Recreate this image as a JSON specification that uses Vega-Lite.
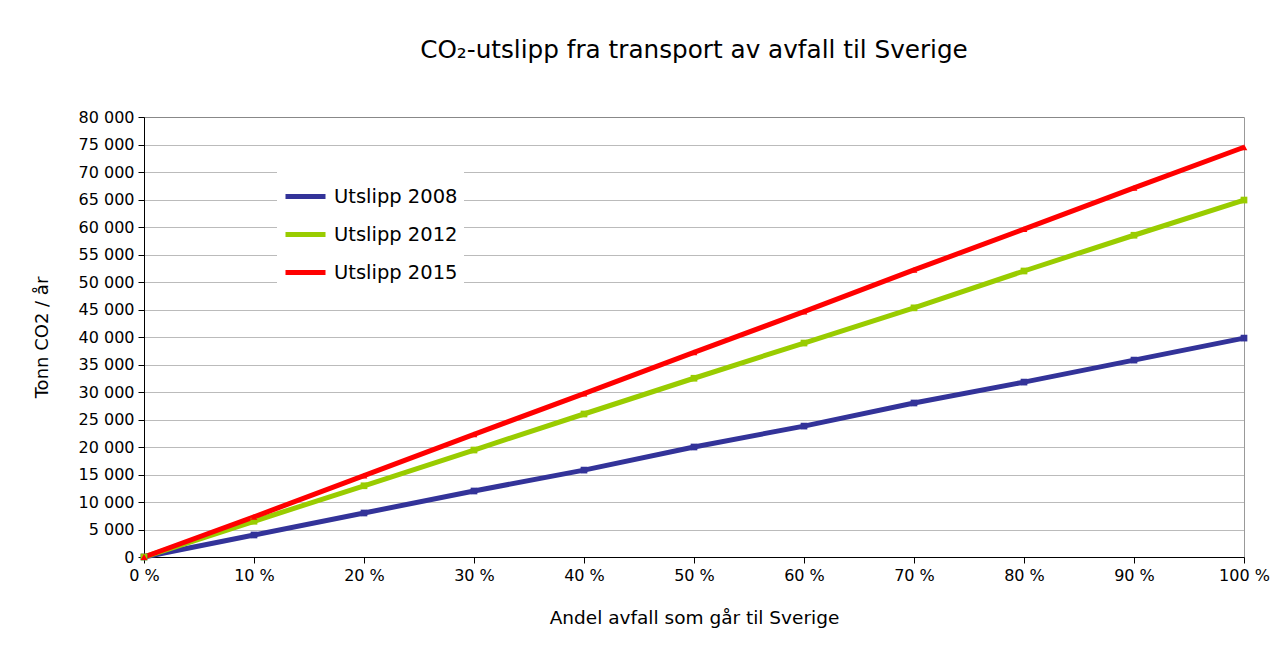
{
  "$schema": "https://vega.github.io/schema/vega-lite/v6.json",
  "width": 1100,
  "height": 440,
  "autosize": {"type": "none"},
  "padding": {"left": 144, "top": 117, "right": 37, "bottom": 95},
  "background": "white",
  "title": {
    "text": "CO₂-utslipp fra transport av avfall til Sverige",
    "font": "DejaVu Sans",
    "fontSize": 24.7,
    "fontWeight": "normal",
    "color": "#000000",
    "anchor": "middle",
    "offset": 46
  },
  "config": {
    "locale": {"number": {"decimal": ",", "thousands": " ", "grouping": [3], "currency": ["", ""]}},
    "view": {"stroke": "#999999", "strokeWidth": 1},
    "font": "DejaVu Sans"
  },
  "data": {
    "values": [
      {"andel": 0, "serie": "Utslipp 2008", "co2": 0},
      {"andel": 10, "serie": "Utslipp 2008", "co2": 4000},
      {"andel": 20, "serie": "Utslipp 2008", "co2": 8000},
      {"andel": 30, "serie": "Utslipp 2008", "co2": 12000},
      {"andel": 40, "serie": "Utslipp 2008", "co2": 15800},
      {"andel": 50, "serie": "Utslipp 2008", "co2": 20000},
      {"andel": 60, "serie": "Utslipp 2008", "co2": 23800},
      {"andel": 70, "serie": "Utslipp 2008", "co2": 28000},
      {"andel": 80, "serie": "Utslipp 2008", "co2": 31800},
      {"andel": 90, "serie": "Utslipp 2008", "co2": 35800},
      {"andel": 100, "serie": "Utslipp 2008", "co2": 39800},
      {"andel": 0, "serie": "Utslipp 2012", "co2": 0},
      {"andel": 10, "serie": "Utslipp 2012", "co2": 6500},
      {"andel": 20, "serie": "Utslipp 2012", "co2": 12950},
      {"andel": 30, "serie": "Utslipp 2012", "co2": 19450},
      {"andel": 40, "serie": "Utslipp 2012", "co2": 26000},
      {"andel": 50, "serie": "Utslipp 2012", "co2": 32500},
      {"andel": 60, "serie": "Utslipp 2012", "co2": 38900},
      {"andel": 70, "serie": "Utslipp 2012", "co2": 45300},
      {"andel": 80, "serie": "Utslipp 2012", "co2": 52000},
      {"andel": 90, "serie": "Utslipp 2012", "co2": 58500},
      {"andel": 100, "serie": "Utslipp 2012", "co2": 64900},
      {"andel": 0, "serie": "Utslipp 2015", "co2": 0},
      {"andel": 10, "serie": "Utslipp 2015", "co2": 7300},
      {"andel": 20, "serie": "Utslipp 2015", "co2": 14800},
      {"andel": 30, "serie": "Utslipp 2015", "co2": 22300},
      {"andel": 40, "serie": "Utslipp 2015", "co2": 29700},
      {"andel": 50, "serie": "Utslipp 2015", "co2": 37200},
      {"andel": 60, "serie": "Utslipp 2015", "co2": 44600},
      {"andel": 70, "serie": "Utslipp 2015", "co2": 52200},
      {"andel": 80, "serie": "Utslipp 2015", "co2": 59600},
      {"andel": 90, "serie": "Utslipp 2015", "co2": 67100},
      {"andel": 100, "serie": "Utslipp 2015", "co2": 74500}
    ]
  },
  "encoding": {
    "x": {
      "field": "andel",
      "type": "quantitative",
      "scale": {"domain": [0, 100], "nice": false},
      "axis": {
        "title": "Andel avfall som går til Sverige",
        "titleFont": "DejaVu Sans",
        "titleFontSize": 18.5,
        "titleFontWeight": "normal",
        "titleColor": "#000000",
        "titlePadding": 25,
        "values": [0, 10, 20, 30, 40, 50, 60, 70, 80, 90, 100],
        "labelExpr": "datum.value + ' %'",
        "labelFont": "DejaVu Sans",
        "labelFontSize": 16,
        "labelColor": "#000000",
        "labelPadding": 4,
        "labelFlush": false,
        "grid": false,
        "domainColor": "#000000",
        "tickColor": "#000000",
        "tickSize": 6
      }
    },
    "y": {
      "field": "co2",
      "type": "quantitative",
      "scale": {"domain": [0, 80000], "nice": false},
      "axis": {
        "title": "Tonn CO2 / år",
        "titleFont": "DejaVu Sans",
        "titleFontSize": 18,
        "titleFontWeight": "normal",
        "titleColor": "#000000",
        "titlePadding": 27,
        "values": [0, 5000, 10000, 15000, 20000, 25000, 30000, 35000, 40000, 45000, 50000, 55000, 60000, 65000, 70000, 75000, 80000],
        "format": ",.0f",
        "labelFont": "DejaVu Sans",
        "labelFontSize": 16,
        "labelColor": "#000000",
        "labelPadding": 4,
        "grid": true,
        "gridColor": "#777777",
        "gridDash": [1, 1],
        "gridWidth": 1,
        "domainColor": "#000000",
        "tickColor": "#000000",
        "tickSize": 6
      }
    }
  },
  "layer": [
    {
      "mark": {"type": "line", "strokeWidth": 5},
      "encoding": {
        "color": {
          "field": "serie",
          "type": "nominal",
          "scale": {"domain": ["Utslipp 2008", "Utslipp 2012", "Utslipp 2015"], "range": ["#333399", "#99CC00", "#FF0000"]},
          "legend": {
            "title": null,
            "orient": "none",
            "legendX": 133,
            "legendY": 51,
            "symbolType": "stroke",
            "symbolStrokeWidth": 5,
            "symbolSize": 1600,
            "labelFont": "DejaVu Sans",
            "labelFontSize": 19.5,
            "labelColor": "#000000",
            "labelOffset": 6,
            "rowPadding": 5,
            "fillColor": "white",
            "padding": 6
          }
        }
      }
    },
    {
      "mark": {"type": "point", "filled": true, "size": 45, "opacity": 1},
      "encoding": {
        "color": {"field": "serie", "type": "nominal", "legend": null},
        "shape": {
          "condition": {"test": "datum.serie == 'Utslipp 2015'", "value": "triangle-up"},
          "value": "square"
        }
      }
    }
  ]
}
